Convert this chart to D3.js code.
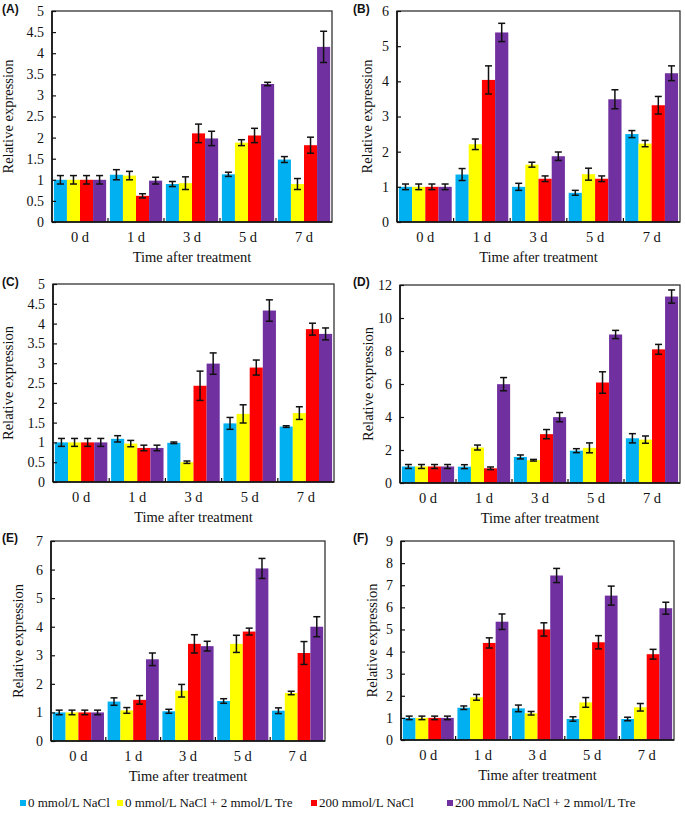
<!DOCTYPE html>
<html><head><meta charset="utf-8">
<script src="https://cdn.jsdelivr.net/npm/d3@7/dist/d3.min.js"></script>
<style>body{margin:0;background:#fff}svg{display:block}</style>
</head><body>
<svg id="c" width="685" height="813"></svg>
<script>
const categories = ["0 d","1 d","3 d","5 d","7 d"];
const seriesNames = ["0 mmol/L NaCl","0 mmol/L NaCl + 2 mmol/L Tre","200 mmol/L NaCl","200 mmol/L NaCl + 2 mmol/L Tre"];
const colors = ["#00B0F0","#FFFF00","#FF0000","#7030A0"];

// values[series][category], errors[series][category]
const A_values = [[1,1.12,0.9,1.13,1.48],[1,1.1,0.92,1.88,0.9],[1,0.62,2.1,2.05,1.82],[1,0.98,1.98,3.27,4.15]];
const A_errors = [[0.1,0.12,0.06,0.05,0.07],[0.1,0.1,0.15,0.07,0.13],[0.1,0.05,0.22,0.17,0.19],[0.1,0.08,0.17,0.04,0.37]];
const B_values = [[1,1.35,1.0,0.83,2.5],[1,2.21,1.63,1.36,2.23],[1,4.04,1.23,1.23,3.32],[1,5.39,1.87,3.49,4.23]];
const B_errors = [[0.08,0.17,0.1,0.07,0.1],[0.08,0.15,0.07,0.17,0.09],[0.08,0.4,0.08,0.08,0.25],[0.08,0.26,0.12,0.27,0.21]];
const C_values = [[1,1.09,0.99,1.48,1.4],[1,0.97,0.5,1.72,1.74],[1,0.86,2.43,2.89,3.86],[1,0.86,2.99,4.33,3.74]];
const C_errors = [[0.1,0.08,0.02,0.15,0.02],[0.1,0.08,0.03,0.23,0.16],[0.1,0.07,0.37,0.19,0.15],[0.1,0.07,0.27,0.27,0.15]];
const D_values = [[1,0.99,1.58,1.96,2.71],[1,2.15,1.38,2.13,2.63],[1,0.89,2.96,6.09,8.1],[1,5.99,3.99,9.0,11.3]];
const D_errors = [[0.12,0.12,0.12,0.12,0.28],[0.12,0.15,0.05,0.3,0.22],[0.12,0.08,0.28,0.65,0.3],[0.12,0.4,0.28,0.25,0.4]];
const E_values = [[1,1.38,1.04,1.4,1.06],[1,1.07,1.76,3.4,1.68],[1,1.44,3.4,3.83,3.08],[1,2.86,3.32,6.04,4.0]];
const E_errors = [[0.08,0.13,0.07,0.08,0.1],[0.08,0.1,0.22,0.3,0.06],[0.08,0.15,0.32,0.12,0.4],[0.08,0.22,0.17,0.35,0.35]];
const F_values = [[1,1.46,1.43,0.95,0.95],[1,1.93,1.21,1.7,1.48],[1,4.39,5.0,4.42,3.88],[1,5.35,7.44,6.53,5.96]];
const F_errors = [[0.08,0.08,0.15,0.1,0.08],[0.08,0.13,0.08,0.22,0.17],[0.08,0.23,0.3,0.3,0.22],[0.08,0.35,0.32,0.43,0.27]];

const A_ticks = [0,0.5,1,1.5,2,2.5,3,3.5,4,4.5,5];
const B_ticks = [0,1,2,3,4,5,6];
const C_ticks = [0,0.5,1,1.5,2,2.5,3,3.5,4,4.5,5];
const D_ticks = [0,2,4,6,8,10,12];
const E_ticks = [0,1,2,3,4,5,6,7];
const F_ticks = [0,1,2,3,4,5,6,7,8,9];

const panelLabels = ["(A)","(B)","(C)","(D)","(E)","(F)"];
const xTitle = "Time after treatment";
const yTitle = "Relative expression";

const panels = [
  {label:panelLabels[0], v:A_values, e:A_errors, ticks:A_ticks, L:52, R:332, T:11, B:222, lx:2, ly:13, yt:8},
  {label:panelLabels[1], v:B_values, e:B_errors, ticks:B_ticks, L:397, R:680, T:11, B:222, lx:353, ly:13, yt:367},
  {label:panelLabels[2], v:C_values, e:C_errors, ticks:C_ticks, L:53, R:334, T:284, B:482, lx:2, ly:286, yt:8},
  {label:panelLabels[3], v:D_values, e:D_errors, ticks:D_ticks, L:400, R:680, T:285, B:483, lx:353, ly:286, yt:368},
  {label:panelLabels[4], v:E_values, e:E_errors, ticks:E_ticks, L:51, R:325, T:541, B:741, lx:2, ly:542, yt:18},
  {label:panelLabels[5], v:F_values, e:F_errors, ticks:F_ticks, L:401, R:674, T:541, B:740, lx:353, ly:542, yt:372}
];

const svg = d3.select("#c");
const serif = "Liberation Serif, Times New Roman, serif";

panels.forEach(p => {
  const g = svg.append("g");
  const x = d3.scaleBand().domain(categories).range([p.L, p.R]).paddingInner(0).paddingOuter(0);
  const inner = d3.scaleBand().domain(d3.range(4)).range([0, x.bandwidth()]).paddingOuter(0.143).paddingInner(0);
  const y = d3.scaleLinear().domain([p.ticks[0], p.ticks[p.ticks.length-1]]).range([p.B, p.T]);

  // bars
  p.v.forEach((vals, s) => {
    g.selectAll(null).data(categories).enter().append("rect")
      .attr("x", c => x(c) + inner(s))
      .attr("y", (c,i) => y(vals[i]))
      .attr("width", inner.bandwidth())
      .attr("height", (c,i) => y(0) - y(vals[i]))
      .attr("fill", colors[s]);
  });
  // error bars
  p.v.forEach((vals, s) => {
    categories.forEach((c, i) => {
      const cx = x(c) + inner(s) + inner.bandwidth()/2;
      const v = vals[i], e = p.e[s][i];
      const y1 = y(v + e), y2 = y(Math.max(0, v - e));
      g.append("line").attr("x1",cx).attr("x2",cx).attr("y1",y1).attr("y2",y2).attr("stroke","#111").attr("stroke-width",1.5);
      [y1,y2].forEach(yy => g.append("line").attr("x1",cx-3.5).attr("x2",cx+3.5).attr("y1",yy).attr("y2",yy).attr("stroke","#111").attr("stroke-width",1.5));
    });
  });

  // frame
  g.append("rect").attr("x",p.L).attr("y",p.T).attr("width",p.R-p.L).attr("height",p.B-p.T)
    .attr("fill","none").attr("stroke","#333").attr("stroke-width",1.3);
  g.append("line").attr("x1",p.L).attr("x2",p.L).attr("y1",p.T).attr("y2",p.B).attr("stroke","#111").attr("stroke-width",1.6);
  g.append("line").attr("x1",p.L).attr("x2",p.R).attr("y1",p.B).attr("y2",p.B).attr("stroke","#111").attr("stroke-width",1.6);

  // y axis (ticks inward)
  const yAxis = d3.axisLeft(y).tickValues(p.ticks).tickSize(-4).tickPadding(8).tickFormat(d3.format("~g"));
  const ya = g.append("g").attr("transform",`translate(${p.L},0)`).call(yAxis);
  ya.select(".domain").remove();
  ya.selectAll(".tick line").attr("stroke","#111").attr("stroke-width",1.2);
  ya.selectAll(".tick text").style("font-family",serif).style("font-size","14px").attr("fill","#111");

  // x ticks at category boundaries (inward)
  categories.slice(1).forEach(c => {
    g.append("line").attr("x1",x(c)).attr("x2",x(c)).attr("y1",p.B).attr("y2",p.B-4).attr("stroke","#111").attr("stroke-width",1.2);
  });
  // category labels
  g.selectAll(null).data(categories).enter().append("text")
    .attr("x", c => x(c) + x.bandwidth()/2).attr("y", p.B + 20)
    .attr("text-anchor","middle").style("font-family",serif).style("font-size","14.5px").attr("fill","#111")
    .text(c => c);
  // x title
  g.append("text").attr("x",(p.L+p.R)/2).attr("y",p.B+40).attr("text-anchor","middle")
    .style("font-family",serif).style("font-size","14.5px").attr("fill","#111").text(xTitle);
  // y title
  g.append("text").attr("transform",`translate(${p.yt+5},${(p.T+p.B)/2}) rotate(-90)`)
    .attr("text-anchor","middle").style("font-family",serif).style("font-size","14.5px").attr("fill","#111").text(yTitle);
  // panel label
  g.append("text").attr("x",p.lx).attr("y",p.ly).style("font-family","Liberation Sans, Arial, sans-serif")
    .attr("font-weight","bold").style("font-size","12px").attr("fill","#111").text(p.label);
});

// legend
const legendX = [20, 117, 311, 447];
const lg = svg.append("g");
seriesNames.forEach((n, i) => {
  lg.append("rect").attr("x",legendX[i]).attr("y",800).attr("width",6).attr("height",6).attr("fill",colors[i]);
  lg.append("text").attr("x",legendX[i]+8).attr("y",807).style("font-family",serif).style("font-size","13px")
    .attr("fill","#111").text(n);
});
</script>
</body></html>
